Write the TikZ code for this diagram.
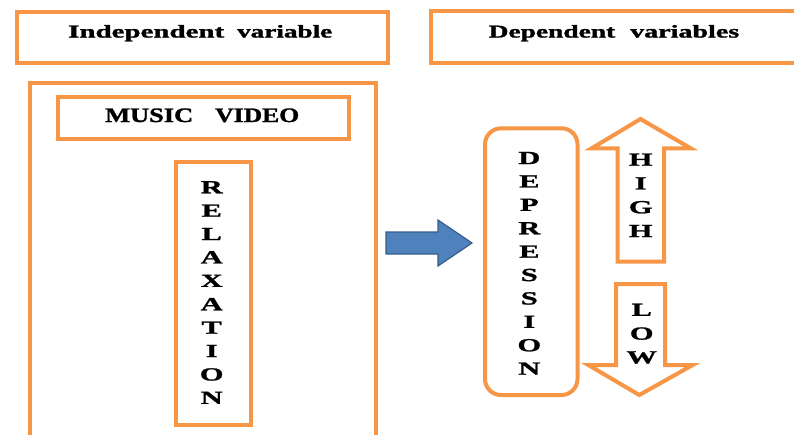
\documentclass[tikz,border=0pt]{standalone}
\usepackage{fontspec}
\setmainfont{Liberation Serif}[BoldFeatures={FakeBold=1.3}]
\newfontfamily\widefont{Liberation Serif}[FakeStretch=1.65,BoldFeatures={FakeBold=1.3}]
\definecolor{orng}{HTML}{F79646}
\definecolor{blu}{HTML}{4F81BD}
\definecolor{bluedge}{HTML}{385D8A}
\newcommand{\sw}[2]{\resizebox{#1pt}{\height}{#2}}
\begin{document}
\begin{tikzpicture}[x=1pt,y=-1pt,
  box/.style={draw=orng,line width=4pt,inner sep=0pt,rectangle},
  title/.style={inner sep=0pt,anchor=base west,font=\bfseries\fontsize{18}{20}\selectfont},
  vtext/.style={inner sep=0pt,align=center,font=\widefont\bfseries\fontsize{18.5}{23.4}\selectfont},
  vtextw/.style={inner sep=0pt,align=center,font=\widefont\bfseries\fontsize{18.5}{23.8}\selectfont},
  blockarrow/.style={draw=orng,line width=4pt,fill=white},
  bluearrow/.style={draw=bluedge,line width=1.2pt,fill=blu}]
\useasboundingbox (0,0) rectangle (794,434);
\clip (0,0) rectangle (794,434);
\fill[white] (0,0) rectangle (794,434);
% top boxes
\node[box,minimum width=371.5pt,minimum height=50.5pt] (indep) at (202.25,37.25) {};
\node[box,minimum width=379.5pt,minimum height=51.5pt] (dep) at (620.25,36.75) {};
\node[title] (indeptxt) at (68,37.5) {\sw{156}{Independent}\hspace{13pt}\sw{95}{variable}};
\node[title] (deptxt) at (488.5,37.5) {\sw{126.5}{Dependent}\hspace{15pt}\sw{109}{variables}};
% left block
\node[box,minimum width=345.8pt,minimum height=366.7pt] (outer) at (202.6,266.65) {};
\node[box,minimum width=291.5pt,minimum height=42.3pt] (music) at (203.25,117.85) {};
\node[title,font=\bfseries\fontsize{20.5}{22}\selectfont] (musictxt) at (105,122) {\sw{88}{MUSIC}\hspace{22pt}\sw{84}{VIDEO}};
\node[box,minimum width=75.5pt,minimum height=262.5pt] (relax) at (213.25,293.25) {};
\node[vtext] (relaxtxt) at (211.7,292.5) {R\\E\\L\\A\\X\\A\\T\\I\\O\\N};
% blue arrow
\draw[bluearrow] (386,232) -- (438,232) -- (438,220) -- (472,243) -- (438,266) -- (438,254) -- (386,254) -- cycle;
% depression
\node[box,rounded corners=16pt,minimum width=92.5pt,minimum height=266.7pt] (depr) at (531.25,261.65) {};
\node[vtext] (deprtxt) at (529.3,263.3) {D\\E\\P\\R\\E\\S\\S\\I\\O\\N};
% high / low arrows
\draw[blockarrow] (640.5,119) -- (690.7,148.3) -- (664,148.3) -- (664,261.7) -- (617.5,261.7) -- (617.5,148.3) -- (591.7,148.3) -- cycle;
\node[vtextw] (hightxt) at (640.7,195.3) {H\\I\\G\\H};
\draw[blockarrow] (616,284) -- (665,284) -- (665,365) -- (692.7,365) -- (639.3,395) -- (588.3,365) -- (616,365) -- cycle;
\node[vtextw] (lowtxt) at (641.7,333.7) {L\\O\\W};
\end{tikzpicture}
\end{document}
